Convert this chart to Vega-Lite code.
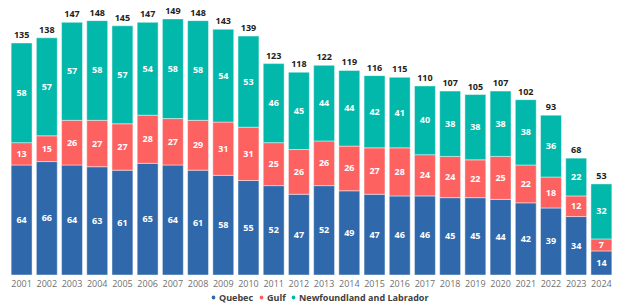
{
  "$schema": "https://vega.github.io/schema/vega-lite/v6.json",
  "width": 605,
  "height": 275,
  "padding": {"left": 9, "top": 0, "right": 10, "bottom": 0},
  "background": "white",
  "config": {"view": {"stroke": null}, "font": "Open Sans"},
  "datasets": {
    "d": [
      {"year":"2001","region":"Quebec","o":1,"value":64},{"year":"2001","region":"Gulf","o":2,"value":13},{"year":"2001","region":"Newfoundland and Labrador","o":3,"value":58},
      {"year":"2002","region":"Quebec","o":1,"value":66},{"year":"2002","region":"Gulf","o":2,"value":15},{"year":"2002","region":"Newfoundland and Labrador","o":3,"value":57},
      {"year":"2003","region":"Quebec","o":1,"value":64},{"year":"2003","region":"Gulf","o":2,"value":26},{"year":"2003","region":"Newfoundland and Labrador","o":3,"value":57},
      {"year":"2004","region":"Quebec","o":1,"value":63},{"year":"2004","region":"Gulf","o":2,"value":27},{"year":"2004","region":"Newfoundland and Labrador","o":3,"value":58},
      {"year":"2005","region":"Quebec","o":1,"value":61},{"year":"2005","region":"Gulf","o":2,"value":27},{"year":"2005","region":"Newfoundland and Labrador","o":3,"value":57},
      {"year":"2006","region":"Quebec","o":1,"value":65},{"year":"2006","region":"Gulf","o":2,"value":28},{"year":"2006","region":"Newfoundland and Labrador","o":3,"value":54},
      {"year":"2007","region":"Quebec","o":1,"value":64},{"year":"2007","region":"Gulf","o":2,"value":27},{"year":"2007","region":"Newfoundland and Labrador","o":3,"value":58},
      {"year":"2008","region":"Quebec","o":1,"value":61},{"year":"2008","region":"Gulf","o":2,"value":29},{"year":"2008","region":"Newfoundland and Labrador","o":3,"value":58},
      {"year":"2009","region":"Quebec","o":1,"value":58},{"year":"2009","region":"Gulf","o":2,"value":31},{"year":"2009","region":"Newfoundland and Labrador","o":3,"value":54},
      {"year":"2010","region":"Quebec","o":1,"value":55},{"year":"2010","region":"Gulf","o":2,"value":31},{"year":"2010","region":"Newfoundland and Labrador","o":3,"value":53},
      {"year":"2011","region":"Quebec","o":1,"value":52},{"year":"2011","region":"Gulf","o":2,"value":25},{"year":"2011","region":"Newfoundland and Labrador","o":3,"value":46},
      {"year":"2012","region":"Quebec","o":1,"value":47},{"year":"2012","region":"Gulf","o":2,"value":26},{"year":"2012","region":"Newfoundland and Labrador","o":3,"value":45},
      {"year":"2013","region":"Quebec","o":1,"value":52},{"year":"2013","region":"Gulf","o":2,"value":26},{"year":"2013","region":"Newfoundland and Labrador","o":3,"value":44},
      {"year":"2014","region":"Quebec","o":1,"value":49},{"year":"2014","region":"Gulf","o":2,"value":26},{"year":"2014","region":"Newfoundland and Labrador","o":3,"value":44},
      {"year":"2015","region":"Quebec","o":1,"value":47},{"year":"2015","region":"Gulf","o":2,"value":27},{"year":"2015","region":"Newfoundland and Labrador","o":3,"value":42},
      {"year":"2016","region":"Quebec","o":1,"value":46},{"year":"2016","region":"Gulf","o":2,"value":28},{"year":"2016","region":"Newfoundland and Labrador","o":3,"value":41},
      {"year":"2017","region":"Quebec","o":1,"value":46},{"year":"2017","region":"Gulf","o":2,"value":24},{"year":"2017","region":"Newfoundland and Labrador","o":3,"value":40},
      {"year":"2018","region":"Quebec","o":1,"value":45},{"year":"2018","region":"Gulf","o":2,"value":24},{"year":"2018","region":"Newfoundland and Labrador","o":3,"value":38},
      {"year":"2019","region":"Quebec","o":1,"value":45},{"year":"2019","region":"Gulf","o":2,"value":22},{"year":"2019","region":"Newfoundland and Labrador","o":3,"value":38},
      {"year":"2020","region":"Quebec","o":1,"value":44},{"year":"2020","region":"Gulf","o":2,"value":25},{"year":"2020","region":"Newfoundland and Labrador","o":3,"value":38},
      {"year":"2021","region":"Quebec","o":1,"value":42},{"year":"2021","region":"Gulf","o":2,"value":22},{"year":"2021","region":"Newfoundland and Labrador","o":3,"value":38},
      {"year":"2022","region":"Quebec","o":1,"value":39},{"year":"2022","region":"Gulf","o":2,"value":18},{"year":"2022","region":"Newfoundland and Labrador","o":3,"value":36},
      {"year":"2023","region":"Quebec","o":1,"value":34},{"year":"2023","region":"Gulf","o":2,"value":12},{"year":"2023","region":"Newfoundland and Labrador","o":3,"value":22},
      {"year":"2024","region":"Quebec","o":1,"value":14},{"year":"2024","region":"Gulf","o":2,"value":7},{"year":"2024","region":"Newfoundland and Labrador","o":3,"value":32}
    ]
  },
  "data": {"name": "d"},
  "encoding": {
    "x": {
      "field": "year", "type": "ordinal", "title": null,
      "scale": {"paddingInner": 0.17, "paddingOuter": 0.085},
      "axis": {"ticks": false, "domain": false, "labelAngle": 0, "labelColor": "#707070", "labelFontSize": 9, "labelPadding": 4, "labelFont": "Open Sans"}
    }
  },
  "layer": [
    {
      "mark": {"type": "bar", "stroke": "#ffffff", "strokeOpacity": 0.45, "strokeWidth": 1},
      "encoding": {
        "y": {"field": "value", "type": "quantitative", "stack": "zero", "scale": {"domain": [0, 160]}, "axis": null},
        "order": {"field": "o"},
        "color": {
          "field": "region", "type": "nominal", "title": null,
          "scale": {"domain": ["Quebec", "Gulf", "Newfoundland and Labrador"], "range": ["#2F68AB", "#FD6160", "#01B8AA"]},
          "legend": {"orient": "none", "legendX": 200, "legendY": 293, "direction": "horizontal", "gridAlign": "none", "symbolType": "circle", "symbolSize": 28, "labelFontSize": 9, "labelFontWeight": "bold", "labelColor": "#404040", "columnPadding": 1, "symbolOffset": 0, "labelOffset": 1, "padding": 0}
        }
      }
    },
    {
      "transform": [
        {"stack": "value", "groupby": ["year"], "sort": [{"field": "o"}], "as": ["y0", "y1"]},
        {"calculate": "(datum.y0 + datum.y1) / 2", "as": "mid"}
      ],
      "mark": {"type": "text", "color": "white", "fontWeight": "bold", "fontSize": 9, "baseline": "middle"},
      "encoding": {
        "y": {"field": "mid", "type": "quantitative", "scale": {"domain": [0, 160]}},
        "text": {"field": "value", "type": "quantitative"}
      }
    },
    {
      "transform": [
        {"aggregate": [{"op": "sum", "field": "value", "as": "total"}], "groupby": ["year"]}
      ],
      "mark": {"type": "text", "color": "#222222", "fontWeight": "bold", "fontSize": 9, "baseline": "bottom", "dy": -3},
      "encoding": {
        "y": {"field": "total", "type": "quantitative", "scale": {"domain": [0, 160]}},
        "text": {"field": "total", "type": "quantitative"}
      }
    }
  ]
}
